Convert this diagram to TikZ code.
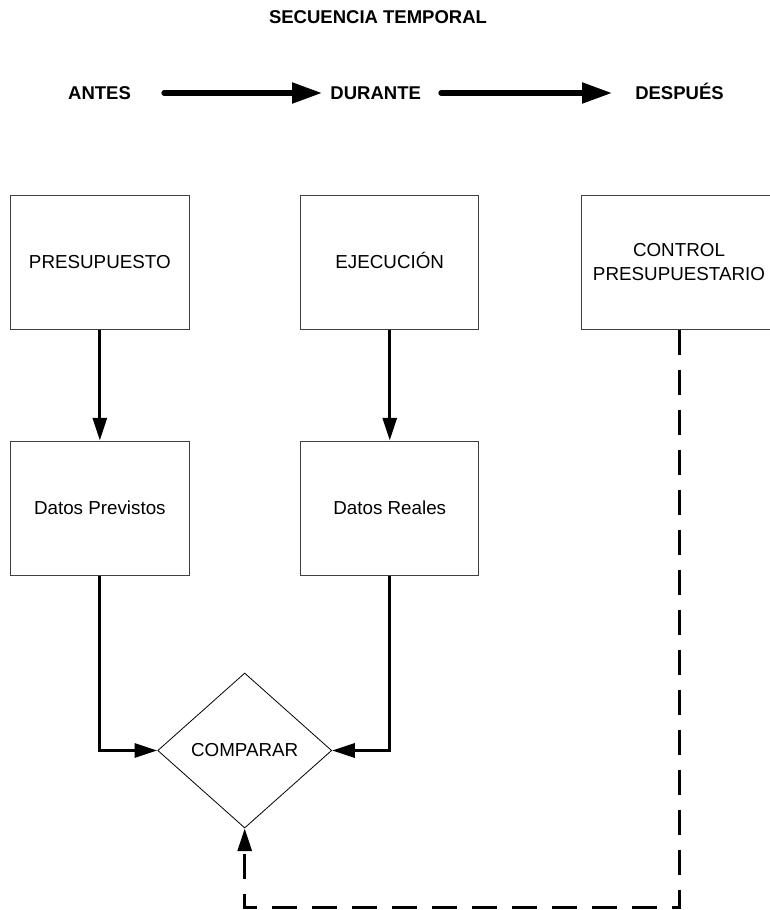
\documentclass[tikz,border=0pt]{standalone}
\usepackage{fontspec}
\setmainfont{Liberation Sans}
\usetikzlibrary{arrows.meta,shapes.geometric}
\begin{document}
\begin{tikzpicture}[x=1pt,y=1pt,
  boxnode/.style={draw=black!75,line width=1pt,minimum width=178.3pt,minimum height=134pt,inner sep=0pt,font=\fontsize{18.8}{23.5}\selectfont},
  onebox/.style={boxnode,text height=13.5pt,text depth=0pt},
  headnode/.style={inner sep=0pt,anchor=base,font=\fontsize{18.5}{22}\selectfont\bfseries},
  timearrow/.style={line width=5.3pt,line cap=round,-{Triangle[length=30pt,width=20pt]}},
  flowarrow/.style={line width=3pt,-{Triangle[length=22.7pt,width=14pt]}},
  dasharrow/.style={line width=3pt,dash pattern=on 25pt off 15pt,-{Triangle[length=22.7pt,width=14pt]}}
]
\useasboundingbox (0,0) rectangle (769,-910);
\node[headnode] (title) at (378,-23.6) {SECUENCIA TEMPORAL};
\node[headnode] (antes) at (99.5,-99.6) {ANTES};
\node[headnode] (durante) at (375.7,-99.6) {DURANTE};
\node[headnode] (despues) at (679.5,-99.6) {DESPUÉS};
\coordinate (a1s) at (164,-93);
\coordinate (a1e) at (322,-93);
\coordinate (a2s) at (441,-93);
\coordinate (a2e) at (612,-93);
\draw[timearrow] (a1s) -- (a1e);
\draw[timearrow] (a2s) -- (a2e);

\node[onebox] (pres) at (99.85,-262) {PRESUPUESTO};
\node[onebox] (ejec) at (389.75,-262) {EJECUCIÓN};
\node[boxnode,align=center,minimum width=196pt] (ctrl) at (679,-262) {CONTROL\\PRESUPUESTARIO};
\node[onebox] (prev) at (99.85,-508) {Datos Previstos};
\node[onebox] (real) at (389.75,-508) {Datos Reales};
\node[diamond,draw=black,line width=0.8pt,minimum width=174pt,minimum height=155pt,inner sep=0pt,aspect=1.12,font=\fontsize{18.8}{23.5}\selectfont] (comp) at (244.7,-750.5) {COMPARAR};

\draw[flowarrow] (pres.south) -- (prev.north);
\draw[flowarrow] (ejec.south) -- (real.north);
\draw[flowarrow] (prev.south) |- (comp.west);
\draw[flowarrow] (real.south) |- (comp.east);
\coordinate (corner) at (679,-907);
\draw[dasharrow] (ctrl.south) -- (corner) -| (comp.south);
\end{tikzpicture}
\end{document}
